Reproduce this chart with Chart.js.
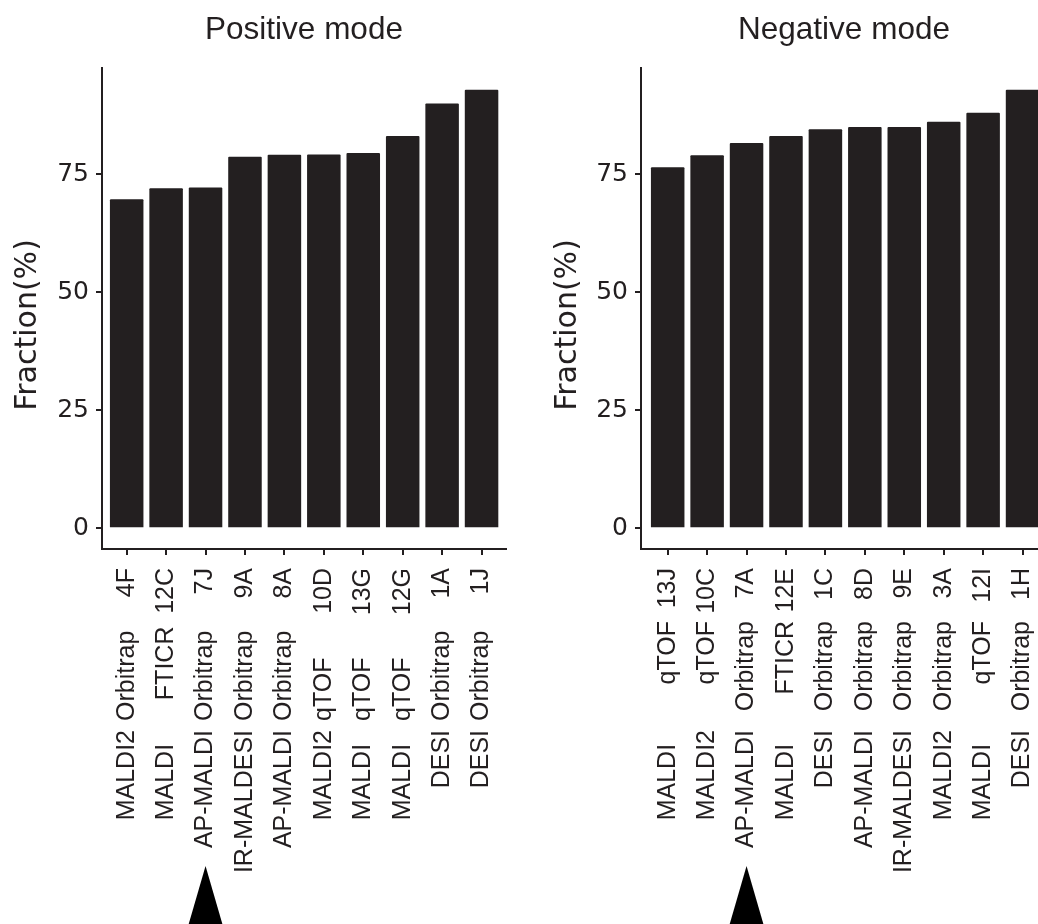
<!DOCTYPE html>
<html>
<head>
<meta charset="utf-8">
<script src="https://cdn.jsdelivr.net/npm/chart.js@4.4.1/dist/chart.umd.min.js"></script>
<style>
  html, body { margin: 0; padding: 0; background: #ffffff; overflow: hidden; }
  #wrap { position: relative; width: 1038px; height: 924px; overflow: hidden; }
  #wrap canvas { position: absolute; top: 0; }
</style>
</head>
<body>
<div id="wrap">
  <canvas id="pos" width="540" height="924" style="left:0px;width:540px;height:924px"></canvas>
  <canvas id="neg" width="520" height="924" style="left:540px;width:520px;height:924px"></canvas>
</div>
<script>
// Positive mode: ionisation source, mass analyzer and dataset id per bar
const posSource   = ['MALDI2', 'MALDI', 'AP-MALDI', 'IR-MALDESI', 'AP-MALDI', 'MALDI2', 'MALDI', 'MALDI', 'DESI', 'DESI'];
const posAnalyzer = ['Orbitrap', 'FTICR', 'Orbitrap', 'Orbitrap', 'Orbitrap', 'qTOF', 'qTOF', 'qTOF', 'Orbitrap', 'Orbitrap'];
const posId       = ['4F', '12C', '7J', '9A', '8A', '10D', '13G', '12G', '1A', '1J'];
const posFraction = [69.7, 72.0, 72.2, 78.7, 79.1, 79.2, 79.5, 83.1, 90.0, 92.9];

// Negative mode
const negSource   = ['MALDI', 'MALDI2', 'AP-MALDI', 'MALDI', 'DESI', 'AP-MALDI', 'IR-MALDESI', 'MALDI2', 'MALDI', 'DESI'];
const negAnalyzer = ['qTOF', 'qTOF', 'Orbitrap', 'FTICR', 'Orbitrap', 'Orbitrap', 'Orbitrap', 'Orbitrap', 'qTOF', 'Orbitrap'];
const negId       = ['13J', '10C', '7A', '12E', '1C', '8D', '9E', '3A', '12I', '1H'];
const negFraction = [76.5, 79.0, 81.6, 83.1, 84.5, 85.0, 85.0, 86.1, 88.0, 92.9];

const yTicks = [0, 25, 50, 75];
const yTitle = 'Fraction(%)';

const INK = '#231f20';
const SANS = '"Liberation Sans", Arial, Helvetica, sans-serif';

// Space padding used to line the label columns up (spaces after a source
// name, spaces before an analyzer name).
function padAfter(s, map) { return s + ' '.repeat((map && map[s]) || 0); }
function padBefore(s, map) { return ' '.repeat((map && map[s]) || 0) + s; }

// Draws the panel title, the y-axis title, the three-part category labels
// and the marker arrow under a highlighted category.
const panelText = {
  id: 'panelText',
  afterDraw(chart, args, o) {
    const ctx = chart.ctx;
    const xs = chart.scales.x;
    const area = chart.chartArea;
    ctx.save();
    ctx.fillStyle = INK;

    ctx.font = o.titleSize + 'px ' + SANS;
    ctx.textAlign = 'center';
    ctx.textBaseline = 'alphabetic';
    ctx.fillText(o.title, (area.left + area.right) / 2, o.titleBaseline);

    ctx.save();
    ctx.translate(o.yTitleX, o.yTitleY);
    ctx.rotate(-Math.PI / 2);
    ctx.font = o.yTitleSize + 'px "DejaVu Sans", sans-serif';
    ctx.textAlign = 'center';
    ctx.textBaseline = 'middle';
    ctx.fillText(yTitle, 0, 0);
    ctx.restore();

    ctx.font = o.labelSize + 'px ' + SANS;
    o.ids.forEach((id, i) => {
      const x = xs.getPixelForValue(i + 1);
      ctx.save();
      ctx.translate(x, 0);
      ctx.rotate(-Math.PI / 2);
      ctx.textBaseline = 'middle';
      // dataset id, ending just below the axis
      ctx.textAlign = 'right';
      ctx.fillText(id, -o.idEnd, 0);
      // analyzer, either starting at a common bottom line or ending at a common top line
      if (o.analyzerFrom === 'bottom') {
        ctx.textAlign = 'left';
        ctx.fillText(padBefore(o.analyzers[i], o.analyzerPad), -o.analyzerPos, 0);
      } else {
        ctx.textAlign = 'right';
        ctx.fillText(o.analyzers[i], -o.analyzerPos, 0);
      }
      // ionisation source
      ctx.textAlign = 'right';
      ctx.fillText(padAfter(o.sources[i], o.sourcePad), -o.sourceEnd, 0);
      ctx.restore();
    });

    // arrow pointing up at the marked category
    const ax = xs.getPixelForValue(o.arrowAt);
    ctx.fillStyle = '#000000';
    ctx.beginPath();
    ctx.moveTo(ax, o.arrowTip);
    ctx.lineTo(ax + o.arrowHalf, chart.height + 4);
    ctx.lineTo(ax - o.arrowHalf, chart.height + 4);
    ctx.closePath();
    ctx.fill();
    ctx.restore();
  }
};

function makeChart(id, values, cfg) {
  const points = values.map((v, i) => ({ x: i + 1, y: v }));
  return new Chart(document.getElementById(id), {
    type: 'bar',
    data: {
      datasets: [{
        data: points,
        backgroundColor: INK,
        borderWidth: 0,
        borderRadius: 1,
        barPercentage: 0.85,
        categoryPercentage: 1.0
      }]
    },
    options: {
      responsive: false,
      animation: false,
      devicePixelRatio: 1,
      layout: { padding: { top: 68, right: cfg.padRight, left: 0, bottom: 0 } },
      plugins: {
        legend: { display: false },
        tooltip: { enabled: false },
        panelText: cfg.text
      },
      scales: {
        x: {
          type: 'linear',
          offset: false,
          min: cfg.xMin,
          max: cfg.xMax,
          afterBuildTicks: s => { s.ticks = values.map((v, i) => ({ value: i + 1 })); },
          afterFit: s => { s.height = 924 - 549; },
          ticks: { display: false },
          grid: { display: true, offset: false, drawOnChartArea: false, drawTicks: true, tickLength: 6, color: INK, lineWidth: 2 },
          border: { display: true, color: INK, width: 2 }
        },
        y: {
          min: -4.4,
          max: 97.5,
          afterBuildTicks: s => { s.ticks = yTicks.map(v => ({ value: v })); },
          afterFit: s => { s.width = cfg.axisLeft; },
          ticks: {
            color: INK,
            padding: 7,
            font: { family: '"DejaVu Sans", sans-serif', size: 25 }
          },
          grid: { display: true, drawOnChartArea: false, drawTicks: true, tickLength: 6, color: INK, lineWidth: 2 },
          border: { display: true, color: INK, width: 2 }
        }
      }
    },
    plugins: [panelText]
  });
}

const textBase = {
  titleSize: 31.5, titleBaseline: 39,
  yTitleSize: 30, yTitleX: 28, yTitleY: 325,
  labelSize: 25, idEnd: 568, sourceEnd: 730,
  sourcePad: { 'MALDI': 2 },
  arrowAt: 3, arrowTip: 866, arrowHalf: 18
};

makeChart('pos', posFraction, {
  padRight: 540 - 506, axisLeft: 102, xMin: 0.374, xMax: 10.62,
  text: Object.assign({}, textBase, {
    title: 'Positive mode',
    analyzerFrom: 'bottom', analyzerPos: 721, analyzerPad: { 'FTICR': 3 },
    sources: posSource, analyzers: posAnalyzer, ids: posId
  })
});

makeChart('neg', negFraction, {
  padRight: 520 - 507, axisLeft: 101, xMin: 0.323, xMax: 10.62,
  text: Object.assign({}, textBase, {
    title: 'Negative mode',
    analyzerFrom: 'top', analyzerPos: 621,
    sources: negSource, analyzers: negAnalyzer, ids: negId
  })
});
</script>
</body>
</html>
